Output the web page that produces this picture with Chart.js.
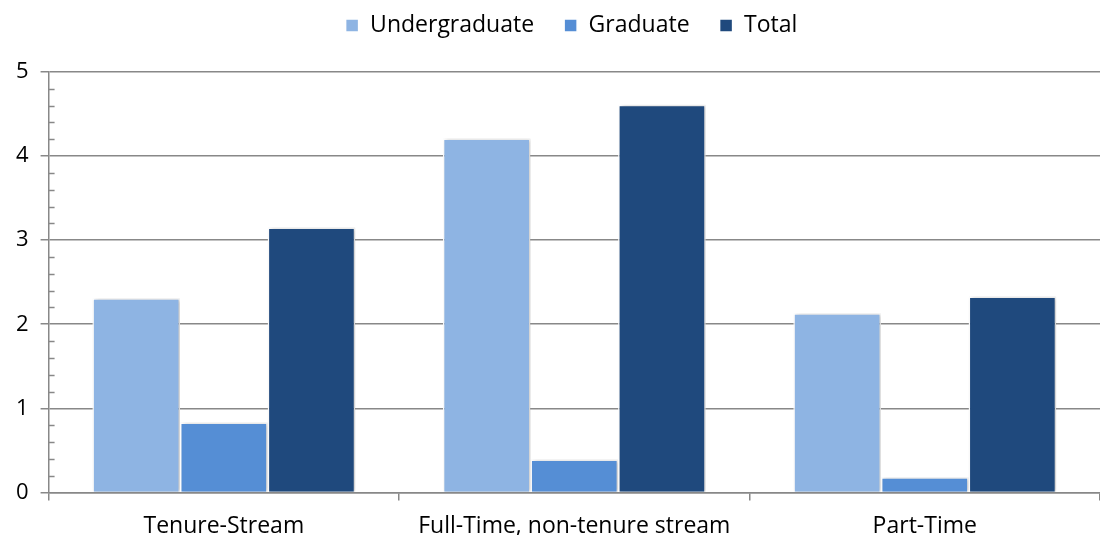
<!DOCTYPE html>
<html>
<head>
<meta charset="utf-8">
<script src="https://cdn.jsdelivr.net/npm/chart.js@4"></script>
<style>
  html, body { margin: 0; padding: 0; background: #fff; }
  #wrap { width: 1100px; height: 535px; }
</style>
</head>
<body>
<div id="wrap"><canvas id="chart"></canvas></div>
<script>
const categories = ['Tenure-Stream', 'Full-Time, non-tenure stream', 'Part-Time'];
const undergraduate = [2.31, 4.21, 2.13];
const graduate = [0.83, 0.39, 0.18];
const total = [3.15, 4.61, 2.33];

const gridGrey = '#888888';
const fontFamily = '"Open Sans", Lato, sans-serif';

// small inside ticks between the whole numbers on the y axis
const minorTicks = {
  id: 'minorTicks',
  afterDraw(chart) {
    let y = chart.scales.y;
    let ctx = chart.ctx;
    ctx.save();
    ctx.strokeStyle = gridGrey;
    ctx.lineWidth = 1.5;
    for (let v = 0; v < 5; v++) {
      for (let k = 1; k < 5; k++) {
        let py = Math.round(y.getPixelForValue(v + k * 0.2)) + 0.5;
        ctx.beginPath();
        ctx.moveTo(y.right, py);
        ctx.lineTo(y.right + 6, py);
        ctx.stroke();
      }
    }
    ctx.restore();
  }
};

// soft shadow behind bars
const barShadow = {
  id: 'barShadow',
  beforeDatasetsDraw(chart) {
    let ctx = chart.ctx;
    ctx.save();
    ctx.shadowColor = 'rgba(0,0,0,0.22)';
    ctx.shadowBlur = 4;
    ctx.shadowOffsetX = 2;
    ctx.shadowOffsetY = 0;
  },
  afterDatasetsDraw(chart) {
    chart.ctx.restore();
  }
};

// tweak room under the legend, and keep it where the original sits
const legendGap = {
  id: 'legendGap',
  beforeInit(chart) {
    const fit = chart.legend.fit;
    chart.legend.fit = function () {
      fit.bind(chart.legend)();
      this.height += 25;
    };
  },
  afterLayout(chart) {
    chart.legend.left += 14;
    chart.legend.right += 14;
  }
};

new Chart(document.getElementById('chart'), {
  type: 'bar',
  data: {
    labels: categories,
    datasets: [
      { label: 'Undergraduate', data: undergraduate, backgroundColor: '#8eb4e3' },
      { label: 'Graduate', data: graduate, backgroundColor: '#558ed5' },
      { label: 'Total', data: total, backgroundColor: '#1f497d' }
    ]
  },
  options: {
    responsive: true,
    maintainAspectRatio: false,
    animation: false,
    layout: { padding: { left: 4, right: -11, top: -16, bottom: -17 } },
    datasets: {
      bar: {
        categoryPercentage: 0.75,
        barPercentage: 1.0,
        borderColor: '#ffffff',
        borderWidth: 1.5
      }
    },
    plugins: {
      legend: {
        position: 'top',
        labels: {
          boxWidth: 13,
          boxHeight: 13,
          padding: 30,
          color: '#000',
          font: { family: fontFamily, size: 23 }
        }
      },
      tooltip: { enabled: false }
    },
    scales: {
      x: {
        grid: {
          offset: true,
          drawOnChartArea: false,
          drawTicks: true,
          tickLength: 8,
          color: gridGrey,
          lineWidth: 1.5
        },
        border: { color: gridGrey, width: 1.5 },
        ticks: {
          color: '#000',
          padding: 12,
          font: { family: fontFamily, size: 23 }
        }
      },
      y: {
        min: 0,
        max: 5,
        ticks: {
          stepSize: 1,
          color: '#000',
          padding: 12,
          font: { family: fontFamily, size: 22 }
        },
        grid: {
          color: gridGrey,
          lineWidth: 1.5,
          tickLength: 8
        },
        border: { color: gridGrey, width: 1.5 }
      }
    }
  },
  plugins: [barShadow, minorTicks, legendGap]
});
</script>
</body>
</html>
